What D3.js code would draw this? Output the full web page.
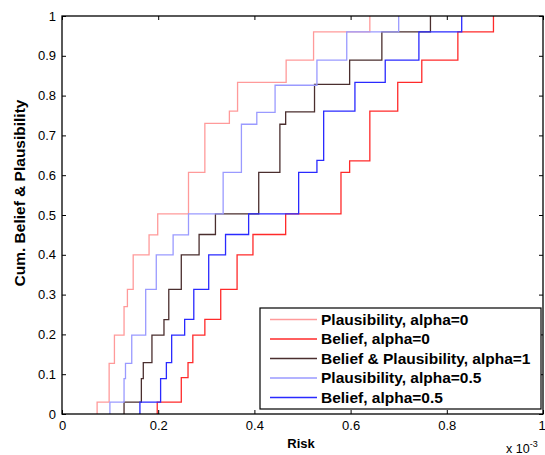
<!DOCTYPE html>
<html><head><meta charset="utf-8">
<script src="https://cdn.jsdelivr.net/npm/d3@7"></script>
<style>body{margin:0;background:#fff}svg{display:block}text{font-family:"Liberation Sans",Arial,sans-serif}</style>
</head><body><svg id="c" width="545" height="455"></svg>
<script>
// x values in units of 1e-3, y = cumulative level after the step
const plausA0X = [0.073,0.098,0.109,0.129,0.136,0.148,0.181,0.199,0.263,0.297,0.348,0.365,0.466,0.523,0.640];
const plausA0Y = [0.03,0.127,0.198,0.27,0.313,0.40,0.45,0.503,0.607,0.73,0.761,0.833,0.889,0.96,1.0];
const belA0X = [0.198,0.248,0.262,0.272,0.297,0.330,0.364,0.397,0.465,0.580,0.598,0.640,0.698,0.748,0.823,0.897];
const belA0Y = [0.03,0.0915,0.129,0.198,0.238,0.313,0.40,0.451,0.503,0.607,0.636,0.761,0.833,0.889,0.96,1.0];
const bpA1X = [0.129,0.165,0.169,0.187,0.212,0.222,0.248,0.285,0.319,0.409,0.453,0.465,0.525,0.598,0.665,0.766];
const bpA1Y = [0.03,0.089,0.129,0.198,0.237,0.313,0.40,0.451,0.503,0.607,0.728,0.759,0.828,0.889,0.96,1.0];
const plausA05X = [0.0996,0.129,0.132,0.145,0.174,0.196,0.231,0.263,0.335,0.373,0.405,0.443,0.530,0.592,0.700];
const plausA05Y = [0.03,0.089,0.127,0.198,0.313,0.40,0.45,0.503,0.607,0.728,0.758,0.826,0.889,0.96,1.0];
const belA05X = [0.162,0.205,0.217,0.228,0.255,0.274,0.305,0.340,0.388,0.492,0.530,0.544,0.609,0.672,0.742,0.831];
const belA05Y = [0.03,0.089,0.129,0.198,0.238,0.313,0.40,0.451,0.503,0.607,0.637,0.761,0.833,0.889,0.96,1.0];
const seriesNames = ["Plausibility, alpha=0","Belief, alpha=0","Belief & Plausibility, alpha=1","Plausibility, alpha=0.5","Belief, alpha=0.5"];
const seriesColors = ["#ff9a9a","#ff2a2a","#4a2e2e","#9a9aff","#2a2aff"];
const xTicks = [0,0.2,0.4,0.6,0.8,1];
const xTickLabels = ["0","0.2","0.4","0.6","0.8","1"];
const yTicks = [0,0.1,0.2,0.3,0.4,0.5,0.6,0.7,0.8,0.9,1];
const yTickLabels = ["0","0.1","0.2","0.3","0.4","0.5","0.6","0.7","0.8","0.9","1"];

const svg = d3.select("#c");
const L=62,R=543,T=16,B=414;
const x = d3.scaleLinear().domain([0,1]).range([L,R]);
const y = d3.scaleLinear().domain([0,1]).range([B,T]);

const series = [[plausA0X,plausA0Y],[belA0X,belA0Y],[bpA1X,bpA1Y],[plausA05X,plausA05Y],[belA05X,belA05Y]];
const line = d3.line().x(d=>x(d[0])).y(d=>y(d[1])).curve(d3.curveStepAfter);
series.forEach((s,i)=>{
  const pts=[[s[0][0],0]];
  s[0].forEach((xv,j)=>pts.push([xv,s[1][j]]));
  svg.append("path").attr("d",line(pts)).attr("fill","none").attr("stroke",seriesColors[i]).attr("stroke-width",1.3);
});

// axes
const ax = svg.append("g");
const gx = ax.append("g").attr("transform",`translate(0,${B})`).call(d3.axisBottom(x).tickValues(xTicks).tickSize(-4).tickPadding(7).tickFormat((d,i)=>xTickLabels[i]));
gx.selectAll(".tick:last-of-type text").attr("dx",-1.5);
ax.append("g").attr("transform",`translate(0,${T})`).call(d3.axisTop(x).tickValues(xTicks).tickSize(-4).tickFormat(""));
ax.append("g").attr("transform",`translate(${L},0)`).call(d3.axisLeft(y).tickValues(yTicks).tickSize(-4).tickPadding(6).tickFormat((d,i)=>yTickLabels[i]));
ax.append("g").attr("transform",`translate(${R},0)`).call(d3.axisRight(y).tickValues(yTicks).tickSize(-4).tickFormat(""));
ax.selectAll(".domain").remove();
ax.selectAll("line").attr("stroke","#000").attr("stroke-width",1);
ax.selectAll("text").attr("font-size",13).attr("fill","#000").attr("font-family","Liberation Sans, Arial, sans-serif");
svg.append("rect").attr("x",L).attr("y",T).attr("width",R-L).attr("height",B-T).attr("fill","none").attr("stroke","#000").attr("stroke-width",1.3);

// labels
svg.append("text").attr("x",301).attr("y",448).attr("text-anchor","middle").attr("font-size",13).attr("font-weight","bold").text("Risk");
svg.append("text").attr("transform","translate(25,193) rotate(-90)").attr("text-anchor","middle").attr("font-size",15.5).attr("font-weight","bold").text("Cum. Belief & Plausibility");
const ex = svg.append("text").attr("x",506).attr("y",453).attr("font-size",12.5);
ex.append("tspan").text("x 10");
ex.append("tspan").attr("dy",-6).attr("font-size",9).text("-3");

// legend
const lg = svg.append("g");
lg.append("rect").attr("x",260).attr("y",308).attr("width",281).attr("height",101).attr("fill","#fff").attr("stroke","#000").attr("stroke-width",1.2);
seriesNames.forEach((n,i)=>{
  const yy=319.5+i*19.5;
  lg.append("line").attr("x1",270).attr("x2",317).attr("y1",yy).attr("y2",yy).attr("stroke",seriesColors[i]).attr("stroke-width",1.3);
  lg.append("text").attr("x",321).attr("y",yy+5).attr("font-size",15.5).attr("font-weight","bold").text(n);
});
</script></body></html>
